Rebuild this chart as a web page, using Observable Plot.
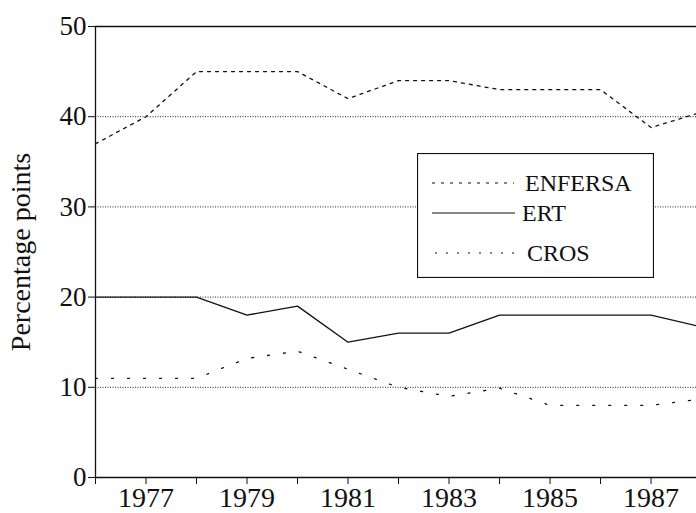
<!DOCTYPE html>
<html>
<head>
<meta charset="utf-8">
<script src="https://cdn.jsdelivr.net/npm/d3@7"></script>
<script src="https://cdn.jsdelivr.net/npm/@observablehq/plot@0.6"></script>
<style>
  html, body { margin: 0; padding: 0; background: #fff; }
  #wrap { position: relative; width: 696px; height: 513px; overflow: hidden; font-family: "Liberation Serif", "DejaVu Serif", serif; }
  #legend { position: absolute; left: 417px; top: 153px; }
</style>
</head>
<body>
<div id="wrap"></div>
<script>
const years = [1976, 1977, 1978, 1979, 1980, 1981, 1982, 1983, 1984, 1985, 1986, 1987, 1988];
const enfersa = [37, 40, 45, 45, 45, 42, 44, 44, 43, 43, 43, 38.8, 40.5];
const ert     = [20, 20, 20, 18, 19, 15, 16, 16, 18, 18, 18, 18, 16.7];
const cros    = [11, 11, 11, 13.2, 14, 12, 10, 9, 9.9, 8, 8, 8, 8.7];
const seriesNames = ["ENFERSA", "ERT", "CROS"];
const yTicks = [0, 10, 20, 30, 40, 50];
const gridValues = [10, 20, 30, 40];

const dashes = {ENFERSA: "3,5", ERT: null, CROS: "2,14"};
const legendDashes = {ENFERSA: "3,6", ERT: null, CROS: "2,9"};

const rows = [];
[enfersa, ert, cros].forEach((vals, i) => {
  vals.forEach((v, j) => rows.push({series: seriesNames[i], year: years[j], value: v}));
});

const ink = "#111";
const chart = Plot.plot({
  width: 696,
  height: 513,
  marginLeft: 95,
  marginRight: 0,
  marginTop: 26,
  marginBottom: 36,
  style: {fontFamily: "Liberation Serif, serif", color: ink, background: "#fff", overflow: "hidden"},
  x: {domain: [1976, 1987.9]},
  y: {domain: [0, 50]},
  marks: [
    Plot.ruleY(gridValues, {stroke: ink, strokeWidth: 1, strokeDasharray: "1,1.5", strokeOpacity: 0.9}),
    Plot.ruleY([0, 50], {stroke: ink, strokeWidth: 1.3}),
    Plot.ruleX([1976], {stroke: ink, strokeWidth: 1.3}),
    ...seriesNames.map(s => Plot.line(rows.filter(r => r.series === s), {
      x: "year", y: "value", stroke: ink, strokeWidth: 1.3,
      strokeDasharray: dashes[s], clip: true
    })),
    Plot.axisX({
      ticks: years, tickSize: 7, tickPadding: 3, fontSize: 28,
      tickFormat: d => (d % 2 === 1 ? String(d) : ""), label: null, stroke: ink
    }),
    Plot.axisY({
      ticks: yTicks, tickSize: 7, tickPadding: 2, fontSize: 27,
      tickFormat: d => String(d), label: null, stroke: ink
    }),
    Plot.text(["Percentage points"], {
      frameAnchor: "left", textAnchor: "middle", dx: -74, rotate: -90, fontSize: 28, fill: ink
    })
  ]
});
document.getElementById("wrap").appendChild(chart);

// Legend (HTML-positioned SVG)
const lw = 237, lh = 125;
const leg = d3.create("svg").attr("id", "legend").attr("width", lw).attr("height", lh);
leg.append("rect").attr("x", 0.5).attr("y", 0.5).attr("width", lw - 1).attr("height", lh - 1)
  .attr("fill", "#fff").attr("stroke", ink).attr("stroke-width", 1.2);
const legRows = [
  {name: "ENFERSA", y: 30, x1: 15, x2: 97, tx: 108},
  {name: "ERT", y: 60, x1: 15, x2: 98, tx: 105},
  {name: "CROS", y: 100, x1: 18, x2: 100, tx: 110}
];
legRows.forEach(r => {
  leg.append("line").attr("x1", r.x1).attr("x2", r.x2).attr("y1", r.y).attr("y2", r.y)
    .attr("stroke", ink).attr("stroke-width", 1.2)
    .attr("stroke-dasharray", legendDashes[r.name]);
  leg.append("text").attr("x", r.tx).attr("y", r.y).attr("dy", "0.35em")
    .attr("font-family", "Liberation Serif, serif").attr("font-size", 24).attr("fill", ink)
    .text(r.name);
});
document.getElementById("wrap").appendChild(leg.node());
</script>
</body>
</html>
